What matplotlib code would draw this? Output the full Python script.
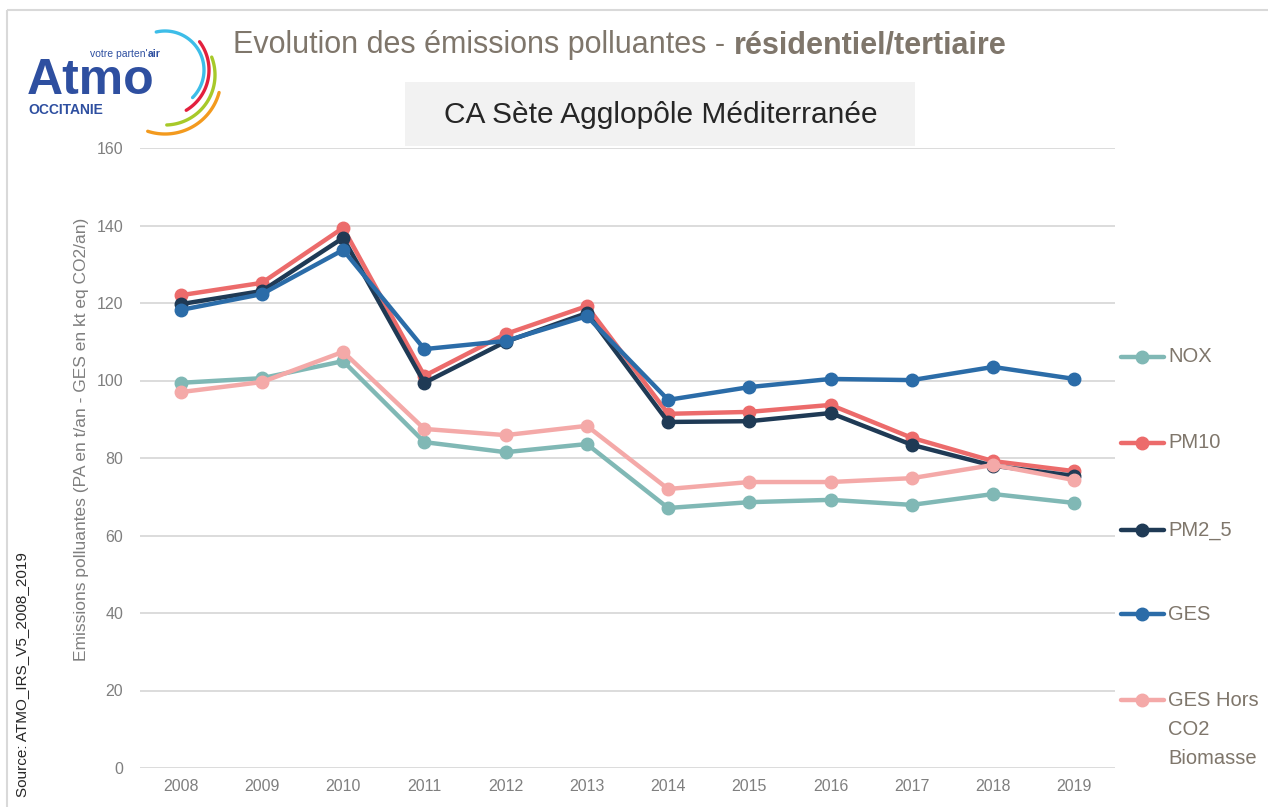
import numpy as np
import matplotlib
matplotlib.use('Agg')
import matplotlib.pyplot as plt
from matplotlib.patches import Rectangle

plt.rcParams['font.family'] = ['Liberation Sans', 'DejaVu Sans']

# données
annees = [2008, 2009, 2010, 2011, 2012, 2013, 2014, 2015, 2016, 2017, 2018, 2019]
nox = [99.4, 100.6, 105.0, 84.1, 81.5, 83.6, 67.1, 68.6, 69.2, 67.9, 70.7, 68.4]
pm10 = [122.0, 125.2, 139.4, 101.2, 112.0, 119.2, 91.4, 91.9, 93.7, 85.2, 79.2, 76.6]
pm25 = [119.7, 123.1, 136.8, 99.4, 110.0, 117.4, 89.3, 89.5, 91.6, 83.4, 78.0, 75.4]
ges = [118.2, 122.3, 133.7, 108.1, 110.2, 116.6, 95.0, 98.3, 100.4, 100.1, 103.5, 100.4]
ges_hors = [97.0, 99.6, 107.4, 87.5, 85.9, 88.3, 72.0, 73.8, 73.8, 74.8, 78.2, 74.3]

noms = ['NOX', 'PM10', 'PM2_5', 'GES', 'GES Hors\nCO2\nBiomasse']
valeurs = [nox, pm10, pm25, ges, ges_hors]
couleurs = ['#80B8B5', '#EC6B6B', '#1F3A55', '#2B6CA8', '#F4A9A8']

W, H = 1268, 807
fig = plt.figure(figsize=(W / 100, H / 100), dpi=100)
renderer = fig.canvas.get_renderer()

# calque de fond en pixels (cadre, logo, encadré, légende)
bg = fig.add_axes([0, 0, 1, 1], zorder=0)
bg.set_xlim(0, W)
bg.set_ylim(H, 0)
bg.axis('off')
bg.add_patch(Rectangle((7, 10), W, H, fill=False, edgecolor='#D9D9D9', lw=1.5))
bg.add_patch(Rectangle((405, 82), 510, 64, facecolor='#F2F2F2', edgecolor='none'))

# logo Atmo Occitanie
bleu = '#2E4FA0'
bg.text(27, 94, 'Atmo', color=bleu, fontsize=36, fontweight='bold',
        va='baseline', ha='left')
bg.text(28, 114, 'OCCITANIE', color=bleu, fontsize=10, fontweight='bold',
        va='baseline', ha='left')
tv = bg.text(90, 57, "votre parten'", color=bleu, fontsize=7.5,
             va='baseline', ha='left')
xv = bg.transData.inverted().transform(
    (tv.get_window_extent(renderer).x1, 0))[0]
bg.text(xv, 57, "air", color=bleu, fontsize=7.5, fontweight='bold',
        va='baseline', ha='left')
arcs = [(165, 70, 39, -45, 103, '#3DBDE8'),
        (162, 70, 47, -59, 37, '#E3203D'),
        (165, 75, 50, -88, 21, '#A7C929'),
        (165, 78, 56, -108, -15, '#F39A1E')]
for cx, cy, r, a0, a1, c in arcs:
    th = np.radians(np.linspace(a0, a1, 80))
    bg.plot(cx + r * np.cos(th), cy - r * np.sin(th), color=c, lw=2.4,
            solid_capstyle='round')

# titres
t1 = bg.text(233, 45, 'Evolution des émissions polluantes - ', color='#7F766B',
             fontsize=22, va='center', ha='left')
x2 = bg.transData.inverted().transform((t1.get_window_extent(renderer).x1, 0))[0]
bg.text(x2, 45, 'résidentiel/tertiaire', color='#7F766B',
        fontsize=22, fontweight='bold', va='center', ha='left')
bg.text(661, 115, 'CA Sète Agglopôle Méditerranée', color='#262626',
        fontsize=21.5, va='center', ha='center')

# graphique principal
ax = fig.add_axes([140 / W, 1 - 768 / H, 975 / W, 620 / H], zorder=1)
ax.patch.set_alpha(0)
for nom, vals, col in zip(noms, valeurs, couleurs):
    ax.plot(annees, vals, color=col, lw=3.2, marker='o', markersize=9,
            label=nom, solid_capstyle='round')

ax.set_xlim(2007.5, 2019.5)
ax.set_ylim(0, 160)
ax.set_xticks(annees)
ax.set_yticks(range(0, 161, 20))
ax.grid(axis='y', color='#D9D9D9', lw=1.3)
ax.set_axisbelow(True)
for s in ax.spines.values():
    s.set_visible(False)
ax.tick_params(axis='both', length=0, colors='#7F7F7F', labelsize=11.5, pad=8)
ax.tick_params(axis='y', pad=12)
ax.set_ylabel('Emissions polluantes (PA en t/an - GES en kt eq CO2/an)',
              color='#7F7F7F', fontsize=12.5)
ax.yaxis.set_label_coords(-0.052, 0.53)

# légende à droite, entrées espacées comme sur l'original
leg_y = [357, 443, 530, 614, 700]
for nom, col, y in zip(noms, couleurs, leg_y):
    bg.plot([1121, 1164], [y, y], color=col, lw=3.2, solid_capstyle='round')
    bg.plot([1142], [y], 'o', color=col, markersize=9)
    if '\n' in nom:
        bg.text(1168, y - 9, nom, color='#7F766B', fontsize=14.5,
                va='top', ha='left', linespacing=1.68)
    else:
        bg.text(1168, y, nom, color='#7F766B', fontsize=14.5,
                va='center', ha='left')

fig.text(22 / W, 1 - 797 / H, 'Source: ATMO_IRS_V5_2008_2019', rotation=90,
         fontsize=11, color='#262626', ha='center', va='bottom')

fig.savefig('out.png', dpi=100)
